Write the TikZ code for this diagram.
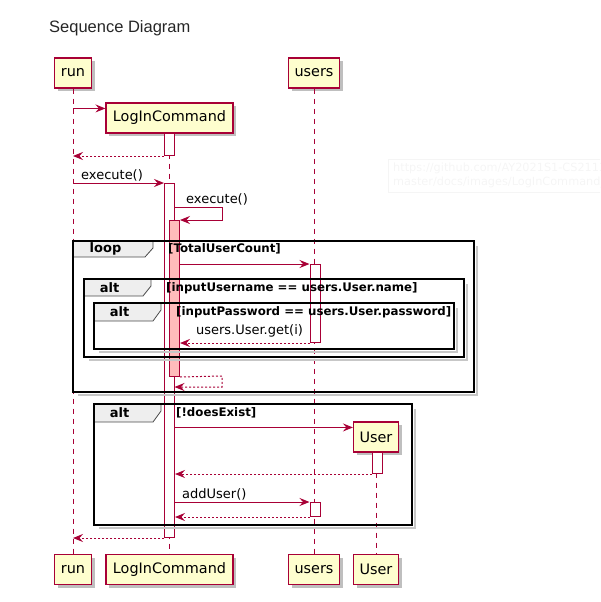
\documentclass[tikz,border=0pt]{standalone}
\usepackage{fontspec}
\setmainfont{DejaVu Sans}
\newfontfamily\titlefont{Liberation Sans}
\usetikzlibrary{arrows.meta,shadows,calc}
\definecolor{pcol}{HTML}{A80036}
\definecolor{pfill}{HTML}{FEFECE}
\definecolor{tabfill}{HTML}{EEEEEE}
\definecolor{actpink}{HTML}{FFBBBB}
\tikzset{
  part/.style={draw=pcol, fill=pfill, line width=1.1pt, minimum height=30pt, inner sep=0pt,
    font=\fontsize{14.4}{16}\selectfont,
    drop shadow={shadow xshift=3pt, shadow yshift=-3pt, opacity=0.25, fill=black}},
  lifeline/.style={draw=pcol, line width=0.9pt, dash pattern=on 5pt off 5pt},
  act/.style={draw=pcol, fill=white, line width=1pt, minimum width=10pt, inner sep=0pt, anchor=north},
  msg/.style={draw=pcol, line width=1pt, -{Stealth[length=10pt,width=8pt,inset=3.5pt]}},
  ret/.style={msg, dash pattern=on 2pt off 2pt},
  mlabel/.style={font=\fontsize{13}{15}\selectfont, inner sep=0pt, anchor=west},
  framebox/.style={draw=black, line width=1.6pt},
  frameshadow/.style={draw=black!22, line width=2.5pt},
  tabshape/.style={draw=black!70, fill=tabfill, line width=0.8pt},
  tablabel/.style={font=\bfseries\fontsize{13}{15}\selectfont, inner sep=0pt},
  cond/.style={font=\bfseries\fontsize{11.8}{14}\selectfont, inner sep=0pt, anchor=west},
  wmtext/.style={font=\fontsize{11.3}{13}\selectfont, text=black!4, anchor=west, inner sep=0pt},
}
\begin{document}
\begin{tikzpicture}[x=1pt, y=-1pt]
\useasboundingbox (0,0) rectangle (600,602);

% title
\node[font=\titlefont\fontsize{16.5}{20}\selectfont, text=black!85, anchor=west, inner sep=0pt] (title) at (49,28) {Sequence Diagram};

% watermark (cut at the right edge as in the reference)
\begin{scope}
\clip (0,0) rectangle (600,602);
\draw[black!4, line width=0.8pt] (388,159) rectangle (612,192);
\node[wmtext] (wm1) at (393,168) {https://github.com/AY2021S1-CS2113-T};
\node[wmtext] (wm2) at (393,183) {master/docs/images/LogInCommand\_};
\end{scope}

% participants
\node[part, minimum width=37pt] (runT) at (73,73) {run};
\node[part, minimum width=127pt] (licT) at (169.5,118) {LogInCommand};
\node[part, minimum width=51pt] (usersT) at (314,73) {users};
\node[part, minimum width=45pt] (userT) at (376,437) {User};
\node[part, minimum width=37pt] (runB) at (73,569.5) {run};
\node[part, minimum width=127pt] (licB) at (169.5,569.5) {LogInCommand};
\node[part, minimum width=51pt] (usersB) at (314,569.5) {users};
\node[part, minimum width=45pt] (userB) at (376,569.5) {User};

% lifelines
\draw[lifeline] (runT.south) -- (runB.north);
\draw[lifeline] (licT.south) -- (licB.north);
\draw[lifeline] (usersT.south) -- (usersB.north);
\draw[lifeline] (userT.south) -- (userB.north);

% activations
\node[act, minimum height=22pt] (a1) at (169.5,133) {};
\node[act, minimum height=354pt] (a2) at (169.5,183) {};
\node[act, minimum height=156pt, fill=actpink] (a3) at (174.5,220) {};
\node[act, minimum height=78pt] (u1) at (315,264) {};
\node[act, minimum height=21pt] (U1) at (377.5,452) {};
\node[act, minimum height=14pt] (u2) at (315,502) {};

% frames
% loop
\draw[frameshadow] (477,246) -- (477,395) -- (78,395);
\draw[tabshape] (73,241) -- (153,241) -- (153,248) -- (145,257) -- (73,257) -- cycle;
\draw[framebox] (73,241) rectangle (474,392);
\node[tablabel] (tloop) at (105.5,249) {loop};
\node[cond] (cloop) at (168,249) {[TotalUserCount]};
% alt 1
\draw[frameshadow] (467,284) -- (467,360) -- (89,360);
\draw[tabshape] (84,279) -- (151,279) -- (151,286) -- (143,296) -- (84,296) -- cycle;
\draw[framebox] (84,279) rectangle (464,357);
\node[tablabel] (talt1) at (109.5,288) {alt};
\node[cond] (calt1) at (166,288) {[inputUsername == users.User.name]};
% alt 2
\draw[frameshadow] (457,308) -- (457,352) -- (99,352);
\draw[tabshape] (94,303) -- (161,303) -- (161,310) -- (153,321) -- (94,321) -- cycle;
\draw[framebox] (94,303) rectangle (454,349);
\node[tablabel] (talt2) at (119.5,312) {alt};
\node[cond] (calt2) at (176,312) {[inputPassword == users.User.password]};
% alt 3
\draw[frameshadow] (415,409) -- (415,528) -- (99,528);
\draw[tabshape] (94,404) -- (161,404) -- (161,411) -- (153,422) -- (94,422) -- cycle;
\draw[framebox] (94,404) rectangle (412,525);
\node[tablabel] (talt3) at (119.5,413) {alt};
\node[cond] (calt3) at (176,413) {[!doesExist]};

% messages
\path ($(licT.north west)+(0,6)$) coordinate (c1);
\draw[msg] (runT.south |- c1) -- (c1);
\draw[ret] (a1.south west) -- (runT.south |- a1.south);

\draw[msg] (runT.south |- a2.north) -- (a2.north west);
\node[mlabel] (l1) at (81,175) {execute()};

\coordinate (s1) at (174.5,207);
\draw[msg] (s1) -- (222,207) |- (a3.north east);
\node[mlabel] (l2) at (186,199) {execute()};

\draw[msg] (a3.east |- u1.north) -- (u1.north west);
\draw[ret] (u1.south west) -- (a3.east |- u1.south);
\node[mlabel, anchor=center] (l3) at (249.5,331) {users.User.get(i)};

\coordinate (r1) at (174.5,387);
\draw[ret] (a3.south east) -- (222,376) |- (r1);

\path ($(userT.north west)+(0,6)$) coordinate (c2);
\draw[msg] (a2.east |- c2) -- (c2);
\draw[ret] (U1.south west) -- (a2.east |- U1.south);

\draw[msg] (a2.east |- u2.north) -- (u2.north west);
\node[mlabel] (l4) at (182,494) {addUser()};
\draw[ret] (u2.south west) -- (a2.east |- u2.south);

\draw[ret] (a2.south west) -- (runT.south |- a2.south);
\end{tikzpicture}
\end{document}
